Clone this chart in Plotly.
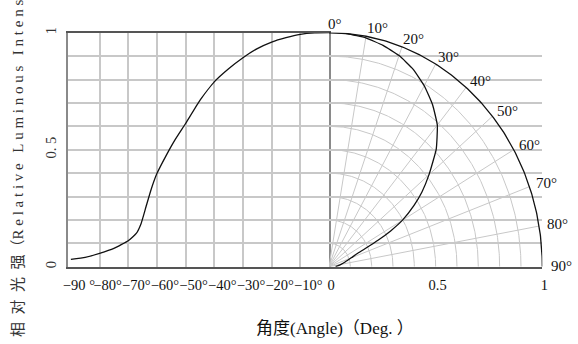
import numpy as np
import plotly.graph_objects as go

# ---- data ----
angles = [0, 5, 10, 15, 20, 25, 30, 35, 40, 45, 50, 53.8, 56.7, 60, 62.1,
          63.8, 65.5, 67.2, 70, 75, 80, 85, 90]
intensity = [1.0, 0.999, 0.993, 0.979, 0.96, 0.932, 0.893, 0.846, 0.79, 0.711,
             0.612, 0.54, 0.477, 0.398, 0.327, 0.256, 0.185, 0.142, 0.111,
             0.078, 0.057, 0.040, 0.031]

left_tick_vals = [-90, -80, -70, -60, -50, -40, -30, -20, -10]
left_tick_text = ["\u221290 \u00b0", "\u221280\u00b0", "\u221270\u00b0", "\u221260\u00b0",
                  "\u221250\u00b0", "\u221240\u00b0", "\u221230\u00b0", "\u221220\u00b0",
                  "\u221210\u00b0"]
right_tick_vals = [0, 0.5, 1]
right_tick_text = ["0", "0.5", "1"]
y_grid_vals = [0, 0.1, 0.2, 0.3, 0.4, 0.5, 0.6, 0.7, 0.8, 0.9, 1.0]
y_tick_text = ["0", "", "", "", "", "0. 5", "", "", "", "", "1"]
polar_label_angles = [0, 10, 20, 30, 40, 50, 60, 70, 80, 90]
circle_radii = [0.1, 0.2, 0.3, 0.4, 0.5, 0.6, 0.7, 0.8, 0.9]
spoke_angles = [10, 20, 30, 40, 50, 60, 70, 80]

W, H = 578, 344
SERIF = "Liberation Serif, Noto Sans CJK SC, serif"
GRID = "#c8c8c8"

fig = go.Figure()

# polar grid: circles
th = np.radians(np.linspace(0, 90, 181))
for r in circle_radii:
    fig.add_trace(go.Scatter(x=r * np.sin(th), y=r * np.cos(th), mode="lines",
                             line=dict(color=GRID, width=1), xaxis="x2", yaxis="y",
                             hoverinfo="skip", showlegend=False))
# spokes
for a in spoke_angles:
    t = np.radians(a)
    fig.add_trace(go.Scatter(x=[0, np.sin(t)], y=[0, np.cos(t)], mode="lines",
                             line=dict(color=GRID, width=1), xaxis="x2", yaxis="y",
                             hoverinfo="skip", showlegend=False))
# outer circle
fig.add_trace(go.Scatter(x=np.sin(th), y=np.cos(th), mode="lines",
                         line=dict(color="#111111", width=1.3), xaxis="x2", yaxis="y",
                         hoverinfo="skip", showlegend=False))

ang = np.array(angles, dtype=float)
inten = np.array(intensity, dtype=float)

# cartesian curve (left half, negative angles)
fig.add_trace(go.Scatter(x=-ang, y=inten, mode="lines",
                         line=dict(color="#111111", width=1.3, shape="spline", smoothing=0.4),
                         xaxis="x", yaxis="y", hoverinfo="skip", showlegend=False))
# polar curve (right half)
rad = np.radians(ang)
fig.add_trace(go.Scatter(x=inten * np.sin(rad), y=inten * np.cos(rad), mode="lines",
                         line=dict(color="#111111", width=1.3, shape="spline", smoothing=0.4),
                         xaxis="x2", yaxis="y", hoverinfo="skip", showlegend=False))

annotations = []
for a in polar_label_angles:
    t = np.radians(a)
    annotations.append(dict(
        x=np.sin(t), y=np.cos(t), xref="x2", yref="y",
        text=f"{a}\u00b0", showarrow=False, xanchor="left", yanchor="middle",
        xshift=-2.5 + 9 * a / 90, yshift=8 * np.cos(t) + 0.5,
        font=dict(family=SERIF, size=15, color="#111111")))

thin = "\u2009"
nb = "\u00a0"
ytitle = (nb + nb).join(list("相对光强")) + "（" + nb.join(list("Relative")) + \
    nb + nb + thin + nb.join(list("Luminous")) + nb + nb + thin + \
    nb.join(list("Intensity")) + "）"
annotations.append(dict(x=18 / W, y=1 - 148 / H, xref="paper", yref="paper",
                        text=ytitle, textangle=-90, showarrow=False,
                        xanchor="center", yanchor="middle",
                        font=dict(family=SERIF, size=15, color="#333333")))
annotations.append(dict(x=335 / W, y=1 - 328 / H, xref="paper", yref="paper",
                        text="角度(Angle)（Deg. ）", showarrow=False,
                        xanchor="center", yanchor="middle",
                        font=dict(family=SERIF, size=17, color="#111111")))

fig.update_layout(
    template="none",
    width=W, height=H,
    margin=dict(l=0, r=0, t=0, b=0, pad=0),
    paper_bgcolor="white", plot_bgcolor="white",
    xaxis=dict(domain=[68 / W, 329 / W], range=[-91, 0], anchor="y", automargin=False,
               tickmode="array", tickvals=left_tick_vals, ticktext=left_tick_text,
               tickangle=0, showgrid=False, zeroline=False, ticks="",
               minor=dict(tickvals=[-80, -70, -60, -50, -40, -30, -20, -10],
                          showgrid=True, gridcolor=GRID, gridwidth=1.5, ticks=""),
               showline=True, linecolor="#555555", linewidth=2, mirror=True,
               ticklabelshift=8, ticklabelstandoff=4,
               tickfont=dict(family=SERIF, size=14.5, color="#111111")),
    xaxis2=dict(domain=[329 / W, 542.3 / W], range=[0, 1], anchor="y", automargin=False,
                tickmode="array", tickvals=right_tick_vals, ticktext=right_tick_text,
                tickangle=0, showgrid=False, zeroline=False, ticks="",
                showline=True, linecolor="#555555", linewidth=2,
                ticklabelshift=2, ticklabelstandoff=4,
                tickfont=dict(family=SERIF, size=14.5, color="#111111")),
    yaxis=dict(domain=[1 - 266.7 / H, 1 - 32.7 / H], range=[0, 1], anchor="x", automargin=False,
               tickmode="array", tickvals=y_grid_vals, ticktext=y_tick_text,
               showgrid=True, gridcolor=GRID, gridwidth=1.5, zeroline=False, ticks="",
               showline=True, linecolor="#8a8a8a", linewidth=2, mirror=True,
               tickangle=-90, ticklabelstandoff=4,
               tickfont=dict(family=SERIF, size=14.5, color="#333333")),
    annotations=annotations,
)

fig.write_html("out.html", config={"displayModeBar": False},
               post_script="document.body.style.margin='0';")
